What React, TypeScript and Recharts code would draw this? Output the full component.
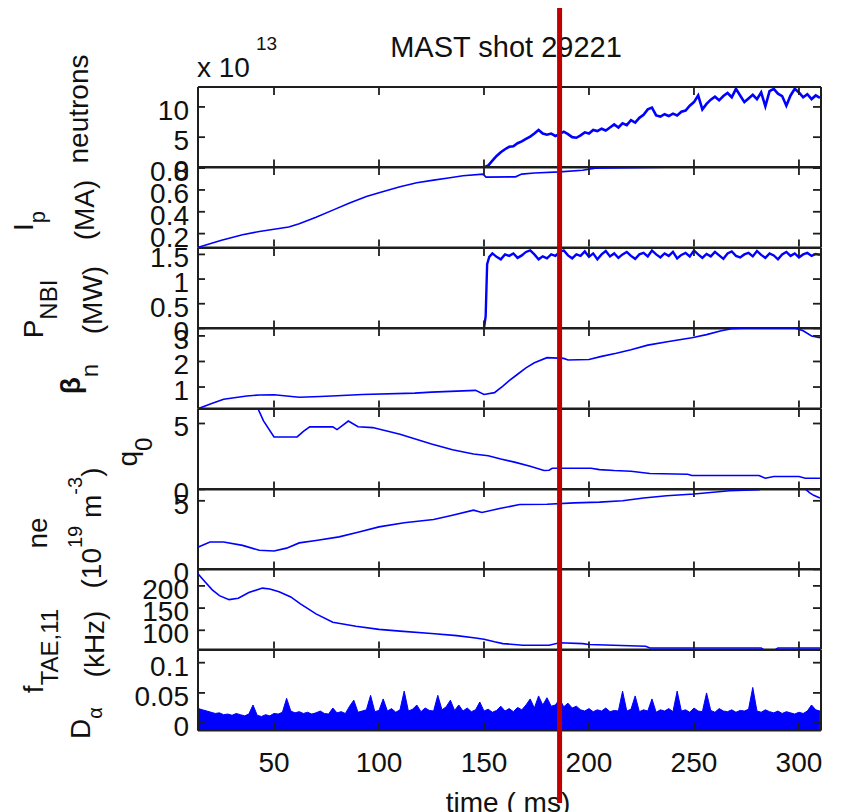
import React from 'react';
import { ComposedChart, LineChart, Line, Area, XAxis, YAxis, ReferenceLine } from 'recharts';

// ---------------- data ----------------
const X_DOMAIN: [number, number] = [13.8, 310.5];
const X_TICKS = [50, 100, 150, 200, 250, 300];
const MARKER_T = 186;
const TITLE = 'MAST shot 29221';
const X_LABEL = 'time ( ms)';

type Pt = [number, number];

// neutrons (x 1e13)
const NEUTRON_START: Pt[] = [[14, 0], [150, 0]];
const NEUTRON_T0 = 152;
const NEUTRON_DT = 2;
const NEUTRON_V = [
  0.3, 1.1, 1.9, 2.5, 3.0, 3.4, 3.5, 4.0, 4.3, 4.7,
  5.1, 5.6, 6.2, 5.6, 5.4, 5.6, 5.2, 5.5, 5.9, 5.5,
  5.0, 4.9, 5.3, 5.8, 5.6, 6.2, 6.0, 6.4, 6.1, 6.6,
  7.1, 6.6, 7.3, 7.0, 7.8, 7.4, 8.2, 8.7, 9.6, 9.9,
  8.6, 8.4, 8.8, 8.5, 8.9, 8.6, 9.2, 9.4, 10.2, 10.8,
  11.9, 9.6, 10.5, 11.2, 11.7, 11.1, 11.8, 12.3, 11.6, 13.0,
  11.9, 10.8, 11.4, 12.0, 11.3, 12.4, 10.1, 12.6, 13.0, 12.2,
  11.8, 10.2, 11.9, 13.0, 12.4, 11.6, 12.1, 11.3, 11.9, 11.5,
];
const NEUTRON_DOMAIN: [number, number] = [0, 13.3];
const NEUTRON_TICKS = [0, 5, 10];

// plasma current Ip (MA)
const IP: Pt[] = [
  [14, 0.076], [25, 0.14], [35, 0.19], [43, 0.22], [50, 0.24], [57, 0.26], [62, 0.29],
  [70, 0.35], [78, 0.415], [86, 0.48], [94, 0.54], [100, 0.575], [110, 0.63], [118, 0.665],
  [126, 0.69], [133, 0.71], [140, 0.73], [149.5, 0.745], [151, 0.717], [165, 0.72],
  [168, 0.745], [174, 0.755], [186, 0.765], [197, 0.78], [203, 0.8], [228, 0.805],
  [245, 0.81], [253, 0.812], [265, 0.83], [310, 0.86],
];
const IP_DOMAIN: [number, number] = [0.074, 0.81];
const IP_TICKS = [0.2, 0.4, 0.6, 0.8];

// NBI power (MW)
const PNBI_START: Pt[] = [[14, 0], [150, 0], [150.8, 0.25], [151.5, 1.3], [152.5, 1.45]];
const PNBI_T0 = 154;
const PNBI_DT = 2;
const PNBI_V = [
  1.52, 1.45, 1.40, 1.50, 1.47, 1.52, 1.43, 1.48, 1.55, 1.58,
  1.50, 1.40, 1.46, 1.42, 1.50, 1.47, 1.55, 1.58, 1.48, 1.42,
  1.50, 1.47, 1.56, 1.45, 1.52, 1.40, 1.50, 1.57, 1.46, 1.52,
  1.43, 1.50, 1.55, 1.47, 1.41, 1.50, 1.53, 1.46, 1.58, 1.50,
  1.44, 1.52, 1.47, 1.55, 1.42, 1.49, 1.53, 1.46, 1.58, 1.50,
  1.43, 1.51, 1.46, 1.55, 1.48, 1.41, 1.52, 1.56, 1.47, 1.44,
  1.50, 1.53, 1.46, 1.57, 1.49, 1.43, 1.52, 1.48, 1.40, 1.50,
  1.55, 1.47, 1.52, 1.44, 1.50, 1.53, 1.47, 1.51, 1.49,
];
const PNBI2_LEVEL = 0; // second beam (dashed), off
const PNBI_DOMAIN: [number, number] = [0, 1.63];
const PNBI_TICKS = [0, 0.5, 1, 1.5];

// normalised beta
const BETAN: Pt[] = [
  [14, 0.16], [20, 0.35], [26, 0.52], [37, 0.65], [43, 0.69], [50, 0.7], [62, 0.6],
  [72, 0.63], [80, 0.66], [92, 0.71], [117, 0.76], [125, 0.8], [137, 0.84], [146, 0.87],
  [150, 0.71], [155, 0.78], [159, 1.04], [162, 1.25], [166, 1.5], [170, 1.75], [174, 1.95],
  [180, 2.15], [188, 2.12], [190, 2.06], [200, 2.08], [206, 2.2], [213, 2.32], [220, 2.46],
  [228, 2.64], [238, 2.78], [249, 2.93], [256, 3.05], [263, 3.2], [268, 3.28], [275, 3.31],
  [298, 3.31], [302, 3.2], [306, 3.0], [310, 2.93],
];
const BETAN_DOMAIN: [number, number] = [0.165, 3.31];
const BETAN_TICKS = [1, 2, 3];

// central safety factor q0
const Q0: Pt[] = [
  [41, 6.6], [45, 5.2], [50, 3.98], [61, 3.98], [64, 4.4], [67, 4.74], [78, 4.74], [80, 4.54],
  [85.4, 5.19], [90, 4.75], [97, 4.69], [110, 4.19], [125, 3.44], [135, 3.0], [145, 2.68],
  [152, 2.55], [158, 2.3], [165, 2.05], [172, 1.75], [178.6, 1.43], [181, 1.45], [182.5, 1.6],
  [201, 1.6], [205, 1.5], [212, 1.43], [220, 1.38], [224, 1.3], [229, 1.2], [247, 1.15],
  [249, 1.05], [281, 1.05], [284, 0.85], [288, 0.98], [300, 0.98], [303, 0.85], [310, 0.85],
];
const Q0_DOMAIN: [number, number] = [0, 6.1];
const Q0_TICKS = [0, 5];

// line-averaged density (1e19 m^-3)
const NE: Pt[] = [
  [14, 1.63], [19.5, 2.0], [26, 2.0], [35, 1.75], [43, 1.39], [50, 1.34], [56, 1.55], [62, 1.93],
  [70, 2.1], [81, 2.37], [90, 2.7], [100, 3.1], [112, 3.4], [126, 3.64], [135, 3.95], [145, 4.32],
  [149, 4.15], [158, 4.45], [167, 4.73], [180, 4.75], [193, 4.85], [205, 4.9], [216, 5.0],
  [226, 5.2], [237, 5.37], [250, 5.5], [267, 5.73], [281, 5.8], [284, 6.0], [302, 6.0],
  [305, 5.6], [307, 5.4], [310, 5.2],
];
const NE_DOMAIN: [number, number] = [0, 5.86];
const NE_TICKS = [0, 5];

// TAE frequency n=1 (kHz)
const FTAE: Pt[] = [
  [14, 226], [17, 210], [20.6, 191], [24, 178], [28.6, 169], [33, 172], [38, 185], [44.5, 195],
  [48, 193], [52.4, 187], [58, 175], [62.4, 160], [70, 137], [78, 118], [89, 109], [100, 102],
  [110, 98], [125, 92.6], [137, 88], [146, 82.8], [150, 80], [155, 74], [159, 70], [168.5, 66.4],
  [181, 66.4], [186, 72], [197, 70], [200, 68], [227, 64], [229, 60], [282, 60], [284, 54],
  [288, 54], [290, 60], [310, 60],
];
const FTAE_DOMAIN: [number, number] = [57, 238];
const FTAE_TICKS = [100, 150, 200];

// D-alpha
const DALPHA_T0 = 14;
const DALPHA_DT = 2;
const DALPHA_V = [
  0.024, 0.022, 0.020, 0.018, 0.016, 0.017, 0.014, 0.015, 0.013, 0.016,
  0.014, 0.012, 0.015, 0.030, 0.013, 0.011, 0.014, 0.012, 0.016, 0.015,
  0.018, 0.041, 0.020, 0.017, 0.019, 0.016, 0.018, 0.015, 0.017, 0.020,
  0.016, 0.015, 0.025, 0.017, 0.019, 0.016, 0.028, 0.038, 0.018, 0.020,
  0.022, 0.046, 0.019, 0.021, 0.040, 0.020, 0.024, 0.018, 0.022, 0.053,
  0.020, 0.023, 0.030, 0.019, 0.025, 0.021, 0.020, 0.046, 0.022, 0.027,
  0.038, 0.021, 0.030, 0.020, 0.025, 0.019, 0.022, 0.035, 0.020, 0.023,
  0.018, 0.021, 0.028, 0.020, 0.024, 0.019, 0.026, 0.022, 0.030, 0.040,
  0.025, 0.045, 0.030, 0.042, 0.028, 0.030, 0.040, 0.027, 0.033, 0.025,
  0.028, 0.022, 0.020, 0.024, 0.019, 0.022, 0.020, 0.025, 0.019, 0.021,
  0.020, 0.053, 0.020, 0.023, 0.045, 0.019, 0.022, 0.020, 0.040, 0.018,
  0.022, 0.020, 0.024, 0.019, 0.053, 0.020, 0.022, 0.018, 0.025, 0.020,
  0.019, 0.050, 0.021, 0.018, 0.024, 0.020, 0.019, 0.022, 0.018, 0.021,
  0.020, 0.023, 0.059, 0.020, 0.018, 0.022, 0.019, 0.017, 0.020, 0.016,
  0.019, 0.017, 0.015, 0.018, 0.016, 0.020, 0.030, 0.022, 0.020,
];
const DALPHA_DOMAIN: [number, number] = [-0.012, 0.121];
const DALPHA_TICKS = [0, 0.05, 0.1];

// ---------------- layout / style ----------------
const W = 842;
const H = 812;
const PLOT_RIGHT = 821;
const Y_AXIS_W = 198;
const PANEL_TOP = 87;
const PANEL_BOTTOM = 730;
const N_PANELS = 8;
const PANEL_H = (PANEL_BOTTOM - PANEL_TOP) / N_PANELS;
const PAD = 40;
const THIN = 1; // size given to the tick-only axes (must be > 0 to render)
const FONT = "'Liberation Sans', Arial, Helvetica, sans-serif";
const BLUE = '#0000ff';
const FRAME = '#1e1e1e';
const TXT = '#111111';
const RED = '#c00000';
const TICK_LEN = 7;

const fromPairs = (pts: Pt[]) => pts.map(([t, v]) => ({ t, v }));
const fromGrid = (t0: number, dt: number, vals: number[]) => vals.map((v, i) => ({ t: t0 + i * dt, v }));

const neutronRows = [...fromPairs(NEUTRON_START), ...fromGrid(NEUTRON_T0, NEUTRON_DT, NEUTRON_V)];
const ipRows = fromPairs(IP);
const pnbiRows = [...fromPairs(PNBI_START), ...fromGrid(PNBI_T0, PNBI_DT, PNBI_V)].map((r) => ({ ...r, z: PNBI2_LEVEL }));
const betaRows = fromPairs(BETAN);
const q0Rows = fromPairs(Q0);
const neRows = fromPairs(NE);
const ftaeRows = fromPairs(FTAE);
const dalphaRows = fromGrid(DALPHA_T0, DALPHA_DT, DALPHA_V);

// ---------------- axis ticks ----------------
const tickText = { fontSize: 28, fontFamily: FONT, fill: TXT };

const renderXTickBottom = (showLabel: boolean) => (p: any) => (
  <g key={`xb-${p.index}`}>
    <line x1={p.x} y1={p.y - THIN} x2={p.x} y2={p.y - THIN - TICK_LEN} stroke={FRAME} strokeWidth={1.8} />
    {showLabel ? (
      <text x={p.x} y={p.y + 42} textAnchor="middle" {...tickText}>
        {p.payload.value}
      </text>
    ) : null}
  </g>
);

const renderXTickTop = (p: any) => (
  <g key={`xt-${p.index}`}>
    <line x1={p.x} y1={p.y + THIN} x2={p.x} y2={p.y + THIN + TICK_LEN} stroke={FRAME} strokeWidth={1.8} />
  </g>
);

const renderYTickLeft = (p: any) => (
  <g key={`yl-${p.index}`}>
    <line x1={p.x} y1={p.y} x2={p.x + TICK_LEN} y2={p.y} stroke={FRAME} strokeWidth={1.8} />
    <text x={p.x - 9} y={p.y + 13} textAnchor="end" {...tickText}>
      {String(p.payload.value)}
    </text>
  </g>
);

const renderYTickRight = (p: any) => (
  <g key={`yr-${p.index}`}>
    <line x1={p.x - THIN} y1={p.y} x2={p.x - THIN - TICK_LEN} y2={p.y} stroke={FRAME} strokeWidth={1.8} />
  </g>
);

const lineProps = {
  type: 'linear' as const,
  dot: false,
  activeDot: false,
  isAnimationActive: false,
  stroke: BLUE,
  strokeWidth: 1.6,
  zIndex: 1000,
};

interface PanelProps {
  index: number;
  rows: any[];
  domain: [number, number];
  ticks: number[];
  showX?: boolean;
  children: React.ReactNode;
}

function Panel({ index, rows, domain, ticks, showX, children }: PanelProps) {
  const top = PANEL_TOP + index * PANEL_H;
  const extra = showX ? 70 : 0;
  const h = PANEL_H + 2 * PAD + 2 * THIN + extra;
  const frameLine = { stroke: FRAME, strokeWidth: 2 };
  return (
    <div style={{ position: 'absolute', left: 0, top: top - PAD - THIN, width: W, height: h }}>
      <ComposedChart
        width={W}
        height={h}
        data={rows}
        margin={{ top: PAD, right: W - PLOT_RIGHT - THIN, bottom: PAD + extra, left: 0 }}
      >
        <XAxis
          type="number"
          dataKey="t"
          domain={X_DOMAIN}
          allowDataOverflow
          ticks={X_TICKS}
          interval={0}
          height={THIN}
          tickSize={0}
          tickMargin={0}
          tickLine={false}
          stroke={FRAME}
          axisLine={frameLine}
          tick={renderXTickBottom(!!showX)}
        />
        <XAxis
          xAxisId="top"
          orientation="top"
          type="number"
          dataKey="t"
          domain={X_DOMAIN}
          allowDataOverflow
          ticks={X_TICKS}
          interval={0}
          height={THIN}
          tickSize={0}
          tickMargin={0}
          tickLine={false}
          stroke={FRAME}
          axisLine={frameLine}
          tick={renderXTickTop}
        />
        <YAxis
          type="number"
          domain={domain}
          allowDataOverflow
          ticks={ticks}
          interval={0}
          width={Y_AXIS_W}
          tickSize={0}
          tickMargin={0}
          tickLine={false}
          stroke={FRAME}
          axisLine={frameLine}
          tick={renderYTickLeft}
        />
        <YAxis
          yAxisId="r"
          orientation="right"
          type="number"
          domain={domain}
          allowDataOverflow
          ticks={ticks}
          interval={0}
          width={THIN}
          tickSize={0}
          tickMargin={0}
          tickLine={false}
          stroke={FRAME}
          axisLine={frameLine}
          tick={renderYTickRight}
        />
        <ReferenceLine x={X_DOMAIN[0]} stroke={FRAME} strokeWidth={2} ifOverflow="visible" />
        {children}
      </ComposedChart>
    </div>
  );
}

function VLabel({ x, y, children, size = 28 }: { x: number; y: number; children: React.ReactNode; size?: number }) {
  return (
    <text x={x} y={y} transform={`rotate(-90 ${x} ${y})`} textAnchor="middle" fontSize={size}>
      {children}
    </text>
  );
}

function Labels() {
  return (
    <svg width={W} height={H} style={{ position: 'absolute', left: 0, top: 0 }} fontFamily={FONT} fill={TXT}>
      <text x={506} y={57} fontSize={29} textAnchor="middle">{TITLE}</text>
      <text x={197} y={77} fontSize={28}>x 10</text>
      <text x={256} y={50} fontSize={19}>13</text>
      <text x={508} y={812} fontSize={28} textAnchor="middle">{X_LABEL}</text>

      <VLabel x={88} y={109}>neutrons</VLabel>

      <VLabel x={33} y={221}>
        <tspan>I</tspan>
        <tspan dy={12} fontSize={22}>p</tspan>
      </VLabel>
      <VLabel x={94} y={210}>(MA)</VLabel>

      <VLabel x={43} y={309}>
        <tspan>P</tspan>
        <tspan dy={14} fontSize={24}>NBI</tspan>
      </VLabel>
      <VLabel x={102} y={300}>(MW)</VLabel>

      <VLabel x={80} y={379}>
        <tspan fontWeight="bold">β</tspan>
        <tspan dy={18} fontSize={24}>n</tspan>
      </VLabel>

      <VLabel x={137} y={452}>
        <tspan>q</tspan>
        <tspan dy={15} fontSize={24}>0</tspan>
      </VLabel>

      <VLabel x={47} y={533}>ne</VLabel>
      <VLabel x={101} y={528}>
        <tspan>(10</tspan>
        <tspan dy={-19} fontSize={20}>19</tspan>
        <tspan dy={19}> m</tspan>
        <tspan dy={-19} fontSize={20}>-3</tspan>
        <tspan dy={19}>)</tspan>
      </VLabel>

      <VLabel x={43} y={651}>
        <tspan>f</tspan>
        <tspan dy={15} fontSize={24}>TAE,11</tspan>
      </VLabel>
      <VLabel x={104} y={644}>(kHz)</VLabel>

      <VLabel x={90} y={723}>
        <tspan>D</tspan>
        <tspan dy={12} fontSize={20}>α</tspan>
      </VLabel>
    </svg>
  );
}

const MARKER_FRAME = [
  { t: X_DOMAIN[0], m: 0 },
  { t: X_DOMAIN[1], m: 1 },
];

function Marker() {
  return (
    <div style={{ position: 'absolute', left: 0, top: 0, width: W, height: H }}>
      <LineChart width={W} height={H} data={MARKER_FRAME} margin={{ top: 8, right: W - PLOT_RIGHT, bottom: 9, left: Y_AXIS_W }}>
        <XAxis type="number" dataKey="t" domain={X_DOMAIN} allowDataOverflow hide />
        <YAxis type="number" domain={[0, 1]} allowDataOverflow hide />
        <Line dataKey="m" stroke="none" dot={false} activeDot={false} isAnimationActive={false} />
        <ReferenceLine x={MARKER_T} stroke={RED} strokeWidth={5} ifOverflow="visible" />
      </LineChart>
    </div>
  );
}

export default function App() {
  return (
    <div style={{ position: 'absolute', left: 0, top: 0, width: W, height: H, overflow: 'hidden', background: '#fff' }}>
      <Panel index={0} rows={neutronRows} domain={NEUTRON_DOMAIN} ticks={NEUTRON_TICKS}>
        <Line dataKey="v" {...lineProps} strokeWidth={2.6} />
      </Panel>
      <Panel index={1} rows={ipRows} domain={IP_DOMAIN} ticks={IP_TICKS}>
        <Line dataKey="v" {...lineProps} />
      </Panel>
      <Panel index={2} rows={pnbiRows} domain={PNBI_DOMAIN} ticks={PNBI_TICKS}>
        <Line dataKey="z" {...lineProps} strokeWidth={3} strokeDasharray="18 8" />
        <Line dataKey="v" {...lineProps} strokeWidth={2.4} />
      </Panel>
      <Panel index={3} rows={betaRows} domain={BETAN_DOMAIN} ticks={BETAN_TICKS}>
        <Line dataKey="v" {...lineProps} />
      </Panel>
      <Panel index={4} rows={q0Rows} domain={Q0_DOMAIN} ticks={Q0_TICKS}>
        <Line dataKey="v" {...lineProps} />
      </Panel>
      <Panel index={5} rows={neRows} domain={NE_DOMAIN} ticks={NE_TICKS}>
        <Line dataKey="v" {...lineProps} />
      </Panel>
      <Panel index={6} rows={ftaeRows} domain={FTAE_DOMAIN} ticks={FTAE_TICKS}>
        <Line dataKey="v" {...lineProps} />
      </Panel>
      <Panel index={7} rows={dalphaRows} domain={DALPHA_DOMAIN} ticks={DALPHA_TICKS} showX>
        <Area
          dataKey="v"
          type="linear"
          stroke={BLUE}
          strokeWidth={1}
          fill={BLUE}
          fillOpacity={1}
          baseValue="dataMin"
          dot={false}
          activeDot={false}
          isAnimationActive={false}
        />
      </Panel>
      <Labels />
      <Marker />
    </div>
  );
}
